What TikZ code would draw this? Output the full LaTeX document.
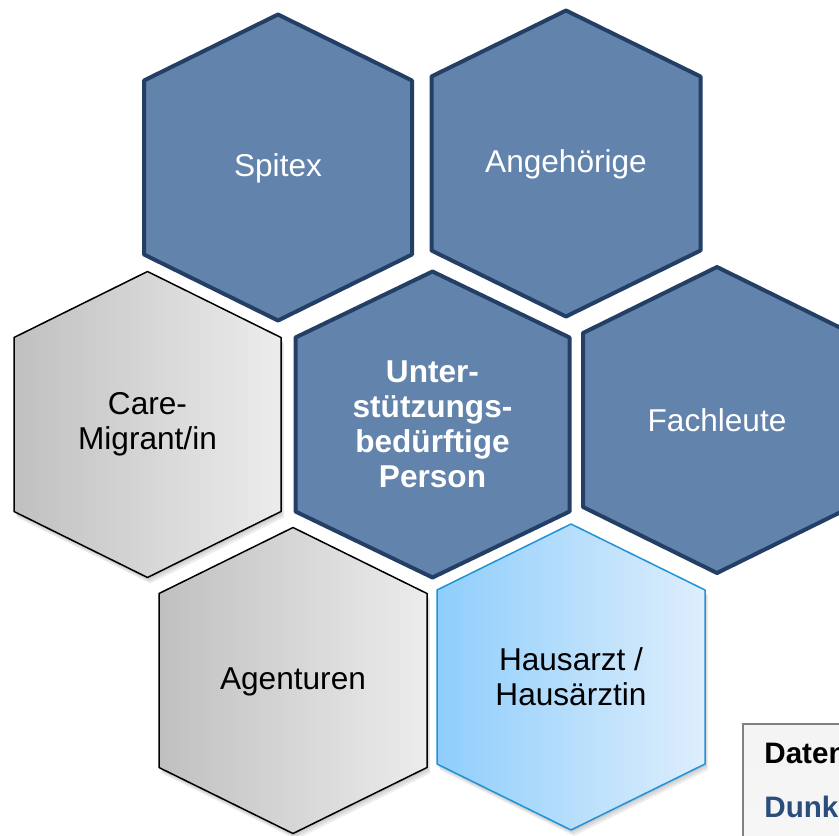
\documentclass[tikz,border=0pt]{standalone}
\usepackage{fontspec}
\setmainfont{Liberation Sans}
\begin{document}
\begin{tikzpicture}[x=0.5pt,y=-0.5pt]
  \definecolor{cellblue}{RGB}{98,131,171}
  \definecolor{cellrim}{RGB}{36,63,102}
  \definecolor{grayleft}{RGB}{192,192,192}
  \definecolor{grayright}{RGB}{236,236,236}
  \definecolor{skyleft}{RGB}{143,206,252}
  \definecolor{skyright}{RGB}{222,238,252}
  \definecolor{skyrim}{RGB}{32,146,214}
  \definecolor{keytext}{RGB}{42,78,124}
  \tikzset{
    bluecell/.style={fill=cellblue, draw=cellrim, line width=2pt, line join=round},
    graycell/.style={left color=grayleft, right color=grayright, draw=black, line width=0.75pt, line join=round},
    skycell/.style={left color=skyleft, right color=skyright, draw=skyrim, line width=0.75pt, line join=round},
    cellshade/.style={fill=black, opacity=0.07},
    celltext/.style={align=center, inner sep=0pt, font=\fontsize{15.8}{17.5}\selectfont},
    whitetext/.style={celltext, text=white},
    darktext/.style={celltext, text=black},
    keybox/.style={top color=white!91!gray, bottom color=white!96!gray, draw=gray, line width=0.75pt},
    keylabel/.style={anchor=base west, inner sep=0pt, font=\fontsize{14.8}{17}\selectfont\bfseries}
  }
  % hexagon with pointed top: centre x, centre y, half width
  \newcommand\honeycell[4]{%
    \path[#1] (#2,#3-153) -- (#2+#4,#3-87) -- (#2+#4,#3+87) -- (#2,#3+153)
      -- (#2-#4,#3+87) -- (#2-#4,#3-87) -- cycle;}
  % soft shadow below a cell
  \newcommand\cellshadow[3]{%
    \honeycell{cellshade}{#1+1}{#2+2}{#3}
    \honeycell{cellshade}{#1+2}{#2+4}{#3}
    \honeycell{cellshade}{#1+3}{#2+6}{#3}}

  \clip (0,0) rectangle (839,835);
  \fill[white] (0,0) rectangle (839,835);

  % upper row
  \honeycell{bluecell}{278}{167.5}{134}
  \node[whitetext] (spitex) at (278,168.5) {Spitex};
  \honeycell{bluecell}{566}{163.5}{134.5}
  \node[whitetext] (angeh) at (566,164.5) {Angehörige};

  % middle row
  \cellshadow{147.5}{424.5}{133.5}
  \honeycell{graycell}{147.5}{424.5}{133.5}
  \node[darktext] (care) at (147.5,424.5) {Care-\\Migrant/in};
  \honeycell{bluecell}{432.5}{424.5}{137}
  \node[whitetext, font=\fontsize{15.8}{17.5}\selectfont\bfseries] (person) at (432.5,424.5)
    {Unter-\\stützungs-\\bedürftige\\Person};
  \honeycell{bluecell}{717}{420}{134}
  \node[whitetext] (fach) at (717,420) {Fachleute};

  % lower row
  \cellshadow{293}{680.5}{134}
  \honeycell{graycell}{293}{680.5}{134}
  \node[darktext] (agent) at (293,681.5) {Agenturen};
  \cellshadow{571}{677}{134}
  \honeycell{skycell}{571}{677}{134}
  \node[darktext] (arzt) at (571,677) {Hausarzt /\\Hausärztin};

  % key box in the corner
  \node[keybox, minimum width=150, minimum height=140, anchor=north west] (key) at (742,723) {};
  \node[keylabel, text=black] (keyA) at (764,763) {Daten};
  \node[keylabel, text=keytext] (keyB) at (764,817) {Dunkel};
\end{tikzpicture}
\end{document}
